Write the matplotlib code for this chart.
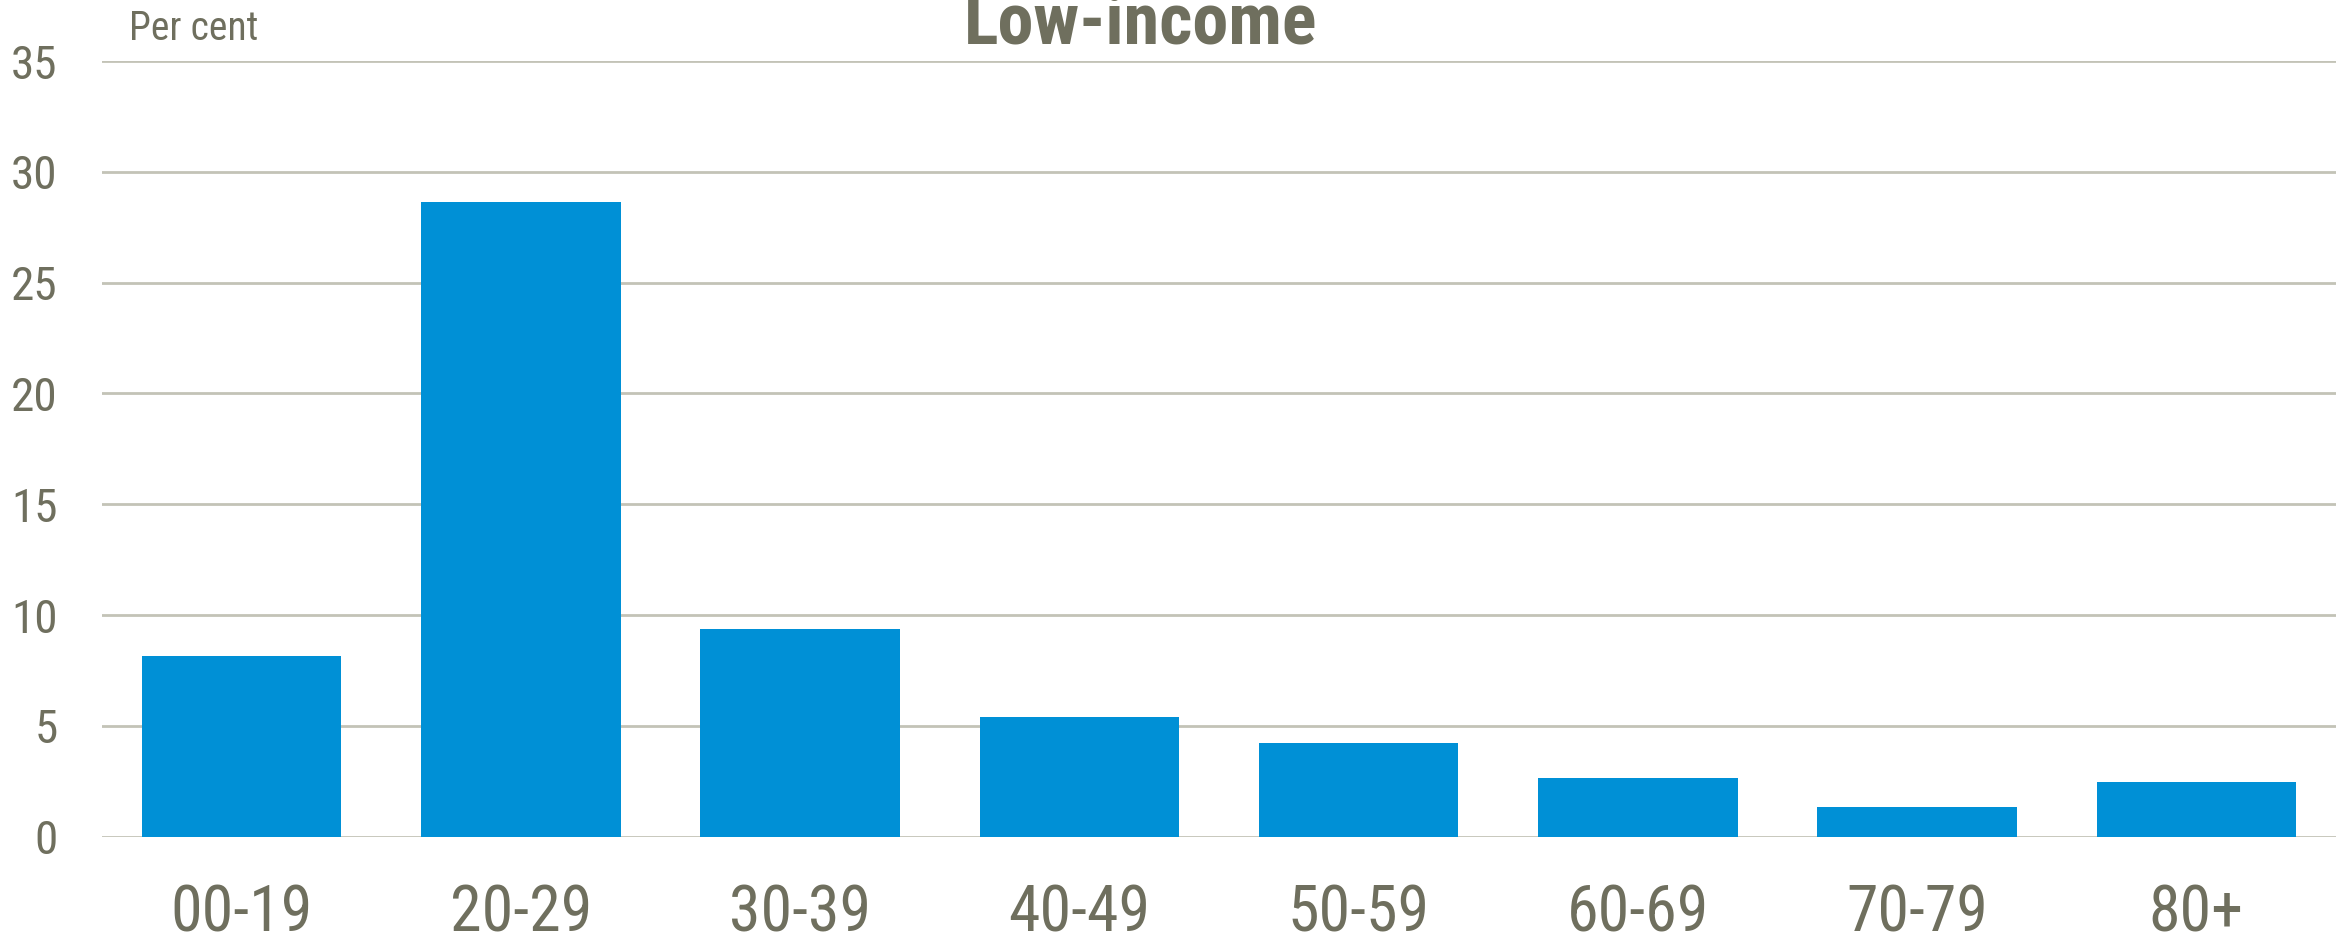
import matplotlib
matplotlib.use("Agg")
import matplotlib.pyplot as plt

categories = ["00-19", "20-29", "30-39", "40-49", "50-59", "60-69", "70-79", "80+"]
values = [8.14, 28.65, 9.36, 5.39, 4.22, 2.66, 1.35, 2.46]
yticks = [0, 5, 10, 15, 20, 25, 30, 35]

TEXT = "#6f6f5e"
BAR = "#0090d6"
GRID = "#c3c3b7"
FONT = ["Roboto Condensed", "PT Sans Narrow", "Liberation Sans", "DejaVu Sans"]
plt.rcParams["font.family"] = FONT

W, H, DPI = 2349, 943, 100
fig = plt.figure(figsize=(W / DPI, H / DPI), dpi=DPI)
ax = fig.add_axes([102 / W, 1 - 836.7 / H, (2336 - 102) / W, (836.7 - 61) / H])

x = list(range(len(categories)))
ax.bar(x, values, width=0.714, color=BAR, zorder=3)

ax.set_xlim(-0.5, len(categories) - 0.5)
ax.set_ylim(0, 35)
ax.set_yticks(yticks)
ax.set_yticklabels([str(t) for t in yticks])
ax.set_xticks(x)
ax.set_xticklabels(categories)

for t in yticks:
    ax.axhline(t, color=GRID, lw=2, zorder=1)

for s in ax.spines.values():
    s.set_visible(False)

ax.tick_params(axis="y", length=0, pad=32, labelsize=34, labelcolor=TEXT)
ax.tick_params(axis="x", length=0, pad=33, labelsize=46, labelcolor=TEXT)

fig.text(1141 / W, 1 - 43 / H, "Low-income", ha="center", va="baseline",
         fontsize=52, fontweight="bold", color=TEXT)
fig.text(129 / W, 1 - 40 / H, "Per cent", ha="left", va="baseline",
         fontsize=28.5, color=TEXT)

fig.savefig("out.png", dpi=DPI)
